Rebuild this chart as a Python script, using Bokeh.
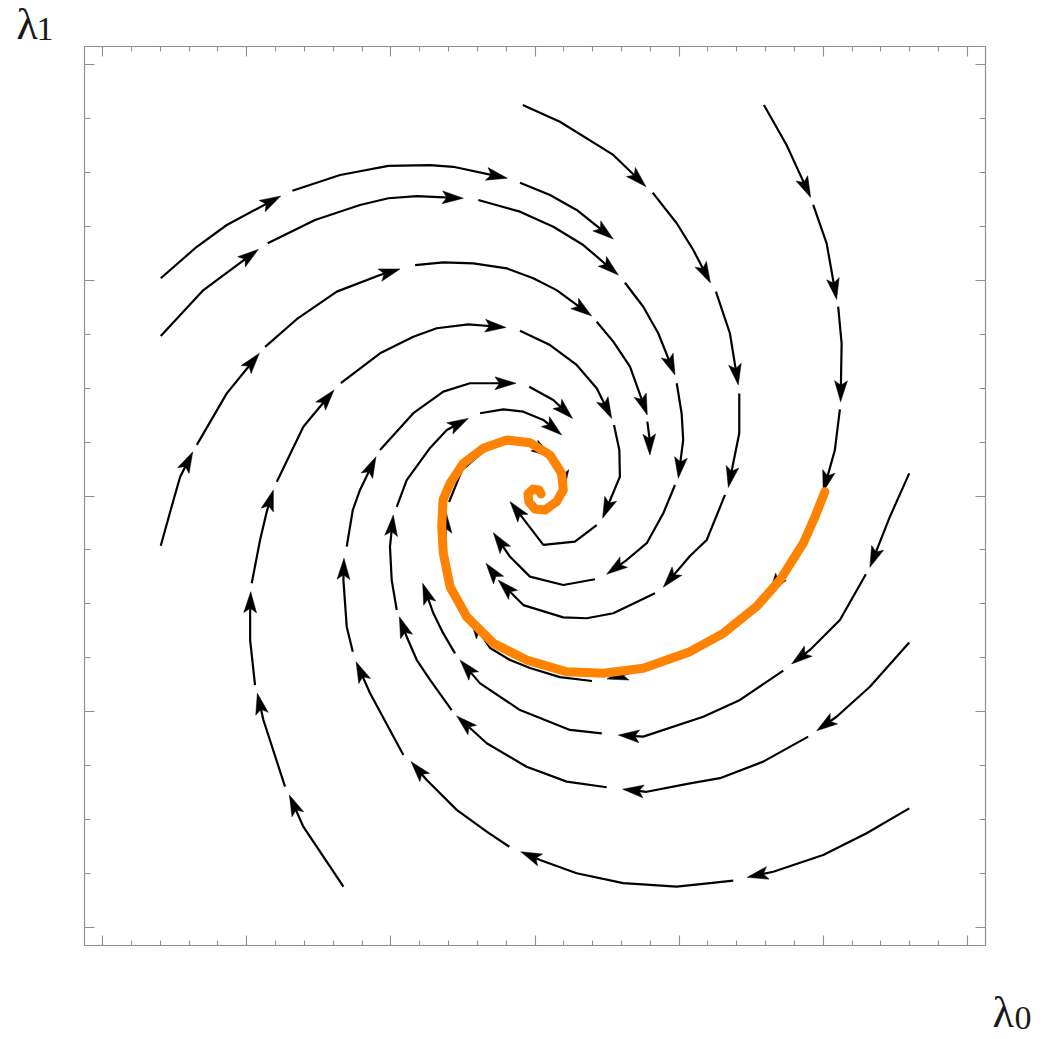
from math import hypot
from bokeh.plotting import figure
from bokeh.models import Range1d, LinearAxis, FixedTicker, Label, CustomJSTickFormatter
from bokeh.embed import file_html
from bokeh.resources import INLINE

# ---------------- data (lambda0, lambda1) ----------------
# Each streamline is a list of pieces; every piece ends in an arrowhead.
stream_a_x = [[-2.596, -2.346, -2.138, -1.764], [-1.683, -1.352, -1.017, -0.728, -0.567, -0.192],
              [-0.104, 0.104, 0.289, 0.543]]
stream_a_y = [[1.010, 1.156, 1.257, 1.391], [1.416, 1.489, 1.531, 1.535, 1.527, 1.474],
              [1.453, 1.396, 1.327, 1.192]]

stream_b_x = [[-2.596, -2.300, -1.919], [-1.854, -1.526, -1.214, -1.017, -0.820, -0.497],
              [-0.393, -0.104, 0.127, 0.335, 0.578], [0.624, 0.751, 0.855, 0.971],
              [0.983, 1.017, 1.028, 0.994], [0.971, 0.890, 0.775, 0.636, 0.497],
              [0.416, 0.196, -0.035, -0.173, -0.289]]
stream_b_y = [[0.742, 0.955, 1.144], [1.172, 1.280, 1.350, 1.381, 1.391, 1.381],
              [1.373, 1.319, 1.249, 1.164, 1.025], [0.989, 0.878, 0.755, 0.561],
              [0.523, 0.384, 0.260, 0.082], [0.051, -0.080, -0.219, -0.297, -0.363],
              [-0.386, -0.413, -0.374, -0.282, -0.170]]

stream_c_x = [[-2.596, -2.531, -2.462, -2.374], [-2.346, -2.138, -1.912],
              [-1.872, -1.653, -1.375, -1.075, -0.936],
              [-0.832, -0.636, -0.428, -0.196, -0.012, 0.150, 0.393],
              [0.428, 0.543, 0.659, 0.779], [0.779, 0.793, 0.797]]
stream_c_y = [[-0.231, -0.074, 0.088, 0.205], [0.237, 0.476, 0.662],
              [0.692, 0.820, 0.948, 1.025, 1.053],
              [1.071, 1.084, 1.079, 1.056, 1.010, 0.955, 0.835],
              [0.808, 0.716, 0.600, 0.376], [0.345, 0.275, 0.190]]

stream_d_x = [[-0.085, 0.173, 0.543, 0.770], [0.816, 0.983, 1.098, 1.217], [1.255, 1.352, 1.410],
              [1.417, 1.417, 1.341], [1.318, 1.191, 1.075, 0.890],
              [0.832, 0.543, 0.359, 0.196, -0.081, -0.255], [-0.284, -0.340]]
stream_d_y = [[1.814, 1.736, 1.582, 1.435], [1.407, 1.265, 1.141, 0.988], [0.948, 0.755, 0.515],
              [0.476, 0.291, 0.040], [0.005, -0.204, -0.278, -0.423],
              [-0.451, -0.544, -0.567, -0.563, -0.506, -0.390], [-0.362, -0.312]]

stream_e_x = [[1.588, 1.745, 1.912], [1.930, 2.023, 2.092], [2.103, 2.127, 2.120],
              [2.115, 2.080, 1.999], [1.983, 1.859, 1.623],
              [1.574, 1.304, 1.075, 0.798, 0.499],
              [0.395, 0.173, -0.035, -0.173, -0.312, -0.451],
              [-0.485, -0.576, -0.624, -0.617],
              [-0.596, -0.506, -0.347, -0.173, -0.021, 0.118], [0.153, 0.194, 0.201]]
stream_e_y = [[1.814, 1.628, 1.385], [1.350, 1.172, 0.912], [0.878, 0.708, 0.437],
              [0.402, 0.213, 0.020], [-0.014, -0.227, -0.455],
              [-0.482, -0.640, -0.724, -0.798, -0.849],
              [-0.858, -0.840, -0.798, -0.761, -0.705, -0.566],
              [-0.529, -0.413, -0.250, -0.074],
              [-0.028, 0.121, 0.213, 0.250, 0.241, 0.181], [0.144, 0.088, 0.023]]

stream_f_x = [[2.596, 2.462, 2.323], [2.295, 2.115, 1.907, 1.780],
              [1.722, 1.422, 1.167, 0.751, 0.578], [0.463, 0.243, -0.104, -0.381, -0.520],
              [-0.555, -0.638, -0.705, -0.779]]
stream_f_y = [[0.105, -0.096, -0.331], [-0.363, -0.575, -0.714, -0.779],
              [-0.810, -0.946, -1.024, -1.116, -1.109], [-1.101, -1.085, -0.993, -0.869, -0.761],
              [-0.730, -0.635, -0.544, -0.405]]

stream_g_x = [[2.596, 2.323, 2.092, 1.954], [1.895, 1.583, 1.283, 1.075, 0.775, 0.608],
              [0.497, 0.220, -0.058, -0.335, -0.543], [-0.578, -0.728, -0.820, -0.890, -0.941],
              [-0.959, -0.994, -1.006, -0.983], [-0.959, -0.890, -0.728, -0.612, -0.463],
              [-0.381, -0.220, -0.081, 0.058, 0.185]]
stream_g_y = [[-0.680, -0.885, -1.024, -1.089], [-1.116, -1.232, -1.309, -1.333, -1.372, -1.360],
              [-1.351, -1.325, -1.256, -1.147, -1.020], [-0.993, -0.853, -0.761, -0.653, -0.560],
              [-0.529, -0.390, -0.235, -0.088], [-0.050, 0.074, 0.223, 0.306, 0.360],
              [0.384, 0.402, 0.391, 0.353, 0.283]]

stream_h_x = [[2.596, 2.300, 1.999, 1.653, 1.472],
              [1.375, 1.214, 0.983, 0.612, 0.289, 0.035, -0.099],
              [-0.178, -0.335, -0.543, -0.751, -0.860], [-0.913, -1.144, -1.241],
              [-1.264, -1.306, -1.329, -1.325], [-1.306, -1.264, -1.214, -1.103],
              [-1.075, -0.844, -0.636, -0.451, -0.132], [-0.040, 0.127, 0.261]]
stream_h_y = [[-1.449, -1.564, -1.665, -1.743, -1.769],
              [-1.784, -1.796, -1.812, -1.796, -1.750, -1.688, -1.650],
              [-1.627, -1.557, -1.456, -1.317, -1.232], [-1.201, -0.915, -0.769],
              [-0.722, -0.606, -0.390, -0.289], [-0.235, -0.065, 0.028, 0.182],
              [0.213, 0.384, 0.484, 0.523, 0.523], [0.507, 0.445, 0.360]]

stream_i_x = [[-1.329, -1.607, -1.704], [-1.734, -1.884, -1.926], [-1.942, -1.976, -1.976, -1.972],
              [-1.965, -1.907, -1.861, -1.815], [-1.791, -1.607, -1.394],
              [-1.347, -1.075, -0.844, -0.682, -0.463, -0.201],
              [-0.104, 0.104, 0.289, 0.428, 0.532], [0.548, 0.585, 0.589, 0.469],
              [0.428, 0.277, 0.058, -0.173]]
stream_i_y = [[-1.812, -1.534, -1.387], [-1.348, -1.039, -0.915], [-0.877, -0.668, -0.544, -0.444],
              [-0.405, -0.204, -0.073, 0.028], [0.066, 0.321, 0.492],
              [0.523, 0.662, 0.739, 0.778, 0.796, 0.782],
              [0.767, 0.700, 0.608, 0.500, 0.360], [0.329, 0.213, 0.090, -0.103],
              [-0.135, -0.212, -0.227, -0.026]]

# trajectory (orange)
orange_x = [2.011, 1.942, 1.861, 1.699, 1.537, 1.306, 1.075, 0.751, 0.474, 0.220,
            -0.058, -0.289, -0.474, -0.589, -0.636, -0.647, -0.638, -0.589, -0.497, -0.359,
            -0.196, -0.035, 0.104, 0.185, 0.196, 0.150, 0.069, 0.000, -0.042, -0.049,
            -0.014, 0.028, 0.042]
orange_y = [0.020, -0.097, -0.219, -0.390, -0.513, -0.637, -0.722, -0.799, -0.822, -0.815,
            -0.761, -0.683, -0.560, -0.421, -0.266, -0.142, -0.019, 0.059, 0.152, 0.221,
            0.260, 0.247, 0.190, 0.105, 0.028, -0.026, -0.065, -0.060, -0.028, 0.009,
            0.032, 0.028, 0.009]

x_major_ticks = [-3, -2, -1, 0, 1, 2, 3]
x_minor_ticks = [round(-3 + 0.2 * i, 2) for i in range(31)]
y_major_ticks = [-2, -1, 0, 1, 2]
y_minor_ticks = [round(-2 + 0.25 * i, 2) for i in range(17)]

# ---------------- figure ----------------
XR = (-3.125, 3.125)
YR = (-2.085, 2.085)
FW, FH = 901, 899
FRAME = "#8f8f8f"

p = figure(x_range=Range1d(*XR), y_range=Range1d(*YR), frame_width=FW, frame_height=FH,
           min_border_left=84, min_border_right=53, min_border_top=46, min_border_bottom=92,
           x_axis_location=None, y_axis_location=None,
           toolbar_location=None, output_backend="svg")
p.grid.visible = False
p.outline_line_color = None
p.background_fill_color = "white"
p.border_fill_color = "white"

blank = CustomJSTickFormatter(code="return ''")


def frame_axis(loc, ticks, minors, maj, mnr):
    ax = LinearAxis(ticker=FixedTicker(ticks=ticks, minor_ticks=minors), formatter=blank)
    ax.major_tick_in = maj
    ax.major_tick_out = 0
    ax.minor_tick_in = mnr
    ax.minor_tick_out = 0
    ax.axis_line_color = FRAME
    ax.axis_line_width = 1.2
    ax.major_tick_line_color = FRAME
    ax.minor_tick_line_color = FRAME
    ax.major_tick_line_width = 1.1
    ax.minor_tick_line_width = 1.1
    ax.major_label_standoff = 0
    ax.major_label_text_font_size = "1px"
    p.add_layout(ax, loc)


frame_axis("below", x_major_ticks, x_minor_ticks, 10, 5)
frame_axis("above", x_major_ticks, x_minor_ticks, 10, 5)
frame_axis("left", y_major_ticks, y_minor_ticks, 10, 6)
frame_axis("right", y_major_ticks, y_minor_ticks, 10, 6)

kx = FW / (XR[1] - XR[0])
ky = FH / (YR[1] - YR[0])
HEAD_LEN, HEAD_HALF, NOTCH = 21.0, 6.4, 4.5

line_xs, line_ys, head_xs, head_ys = [], [], [], []
streams = [(stream_a_x, stream_a_y), (stream_b_x, stream_b_y), (stream_c_x, stream_c_y),
           (stream_d_x, stream_d_y), (stream_e_x, stream_e_y), (stream_f_x, stream_f_y),
           (stream_g_x, stream_g_y), (stream_h_x, stream_h_y), (stream_i_x, stream_i_y)]
for sx_list, sy_list in streams:
    for xs, ys in zip(sx_list, sy_list):
        x0, y0, x1, y1 = xs[-2], ys[-2], xs[-1], ys[-1]
        dx, dy = (x1 - x0) * kx, (y1 - y0) * ky
        n = hypot(dx, dy)
        ux, uy = dx / n, dy / n
        px, py = -uy, ux
        b = -HEAD_LEN
        pts = [(0.0, 0.0),
               (b * ux + HEAD_HALF * px, b * uy + HEAD_HALF * py),
               ((b + NOTCH) * ux, (b + NOTCH) * uy),
               (b * ux - HEAD_HALF * px, b * uy - HEAD_HALF * py)]
        head_xs.append([x1 + a / kx for a, _ in pts])
        head_ys.append([y1 + c / ky for _, c in pts])
        cut = min(8.0, 0.8 * n)
        lx = list(xs[:-1]) + [x1 - cut * ux / kx]
        ly = list(ys[:-1]) + [y1 - cut * uy / ky]
        line_xs.append(lx)
        line_ys.append(ly)

p.multi_line(line_xs, line_ys, line_color="black", line_width=2.2, line_join="round")
p.patches(head_xs, head_ys, fill_color="black", line_color="black", line_width=0.5)
p.line(orange_x, orange_y, line_color="#ff8200", line_width=9, line_cap="round", line_join="round")

# axis labels: lambda_1 (top-left, in the left panel) and lambda_0 (bottom-right, in the right panel)
# positioned in data units (outside the plotted range), so the side panel only provides room
label_specs = [("left", "λ", -3.597, 2.187, "44px"), ("left", "1", -3.458, 2.164, "34px"),
               ("right", "λ", 3.174, -2.395, "44px"), ("right", "0", 3.326, -2.423, "34px")]
for side, txt, x, y, size in label_specs:
    p.add_layout(Label(x=x, y=y, x_units="data", y_units="data", text=txt,
                       text_font="Liberation Serif", text_font_size=size,
                       text_color="#1a1a1a", text_baseline="alphabetic", text_align="left"), side)

open("out.html", "w").write(file_html(p, INLINE))
